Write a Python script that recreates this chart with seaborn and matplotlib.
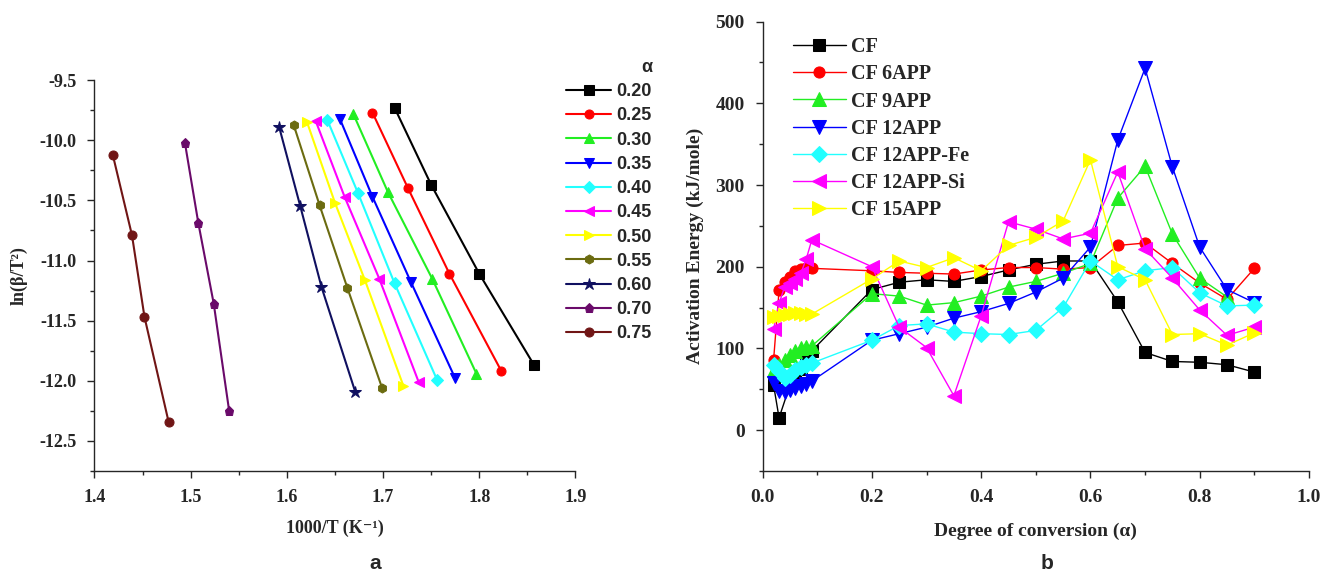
import matplotlib
matplotlib.use("Agg")
import matplotlib.pyplot as plt
from matplotlib.ticker import MultipleLocator, FormatStrFormatter
import seaborn as sns

sns.set_style("ticks")
plt.rcParams['font.family'] = ['Liberation Serif', 'DejaVu Serif']
plt.rcParams['font.weight'] = 'bold'
plt.rcParams['axes.unicode_minus'] = False

# ---- panel a: ln(beta/T^2) vs 1000/T for each conversion ----
alpha_labels = ["0.20", "0.25", "0.30", "0.35", "0.40", "0.45",
                "0.50", "0.55", "0.60", "0.70", "0.75"]
inv_t_020 = [1.712, 1.750, 1.800, 1.857]
ln_bt_020 = [-9.73, -10.37, -11.11, -11.87]
inv_t_025 = [1.689, 1.726, 1.769, 1.823]
ln_bt_025 = [-9.77, -10.40, -11.11, -11.92]
inv_t_030 = [1.669, 1.705, 1.751, 1.797]
ln_bt_030 = [-9.78, -10.43, -11.15, -11.94]
inv_t_035 = [1.655, 1.689, 1.729, 1.775]
ln_bt_035 = [-9.82, -10.47, -11.18, -11.98]
inv_t_040 = [1.642, 1.674, 1.712, 1.756]
ln_bt_040 = [-9.83, -10.44, -11.19, -11.99]
inv_t_045 = [1.630, 1.660, 1.696, 1.737]
ln_bt_045 = [-9.84, -10.47, -11.15, -12.01]
inv_t_050 = [1.621, 1.650, 1.681, 1.721]
ln_bt_050 = [-9.85, -10.52, -11.16, -12.04]
inv_t_055 = [1.607, 1.634, 1.663, 1.699]
ln_bt_055 = [-9.87, -10.54, -11.23, -12.06]
inv_t_060 = [1.592, 1.614, 1.636, 1.671]
ln_bt_060 = [-9.89, -10.55, -11.22, -12.09]
inv_t_070 = [1.494, 1.508, 1.524, 1.540]
ln_bt_070 = [-10.02, -10.69, -11.36, -12.25]
inv_t_075 = [1.419, 1.439, 1.452, 1.477]
ln_bt_075 = [-10.12, -10.79, -11.47, -12.34]

# ---- panel b: activation energy vs degree of conversion ----
series_names = ["CF", "CF 6APP", "CF 9APP", "CF 12APP",
                "CF 12APP-Fe", "CF 12APP-Si", "CF 15APP"]
x_cf = [0.02, 0.03, 0.05, 0.06, 0.07, 0.08, 0.09,
        0.2, 0.25, 0.3, 0.35, 0.4, 0.45, 0.5, 0.55, 0.6, 0.65, 0.7, 0.75, 0.8, 0.85, 0.9]
ea_cf = [55, 15, 55, 62, 75, 88, 97,
         172, 181, 184, 182, 188, 196, 203, 207, 207, 157, 95, 84, 83, 80, 71]
x_full = [0.02, 0.03, 0.04, 0.05, 0.06, 0.07, 0.08, 0.09,
          0.2, 0.25, 0.3, 0.35, 0.4, 0.45, 0.5, 0.55, 0.6, 0.65, 0.7, 0.75, 0.8, 0.85, 0.9]
x_9app = [0.02, 0.03, 0.04, 0.05, 0.06, 0.07, 0.08, 0.09,
          0.2, 0.25, 0.3, 0.35, 0.4, 0.45, 0.5, 0.55, 0.6, 0.65, 0.7, 0.75, 0.8, 0.85]
ea_6app = [86, 171, 181, 187, 195, 197, 198, 198,
           195, 193, 192, 191, 196, 199, 199, 197, 199, 226, 229, 204, 180, 160, 198]
ea_9app = [74, 80, 86, 92, 97, 100, 102, 103,
           167, 164, 153, 156, 164, 175, 182, 192, 204, 284, 323, 240, 186, 163]
ea_12app = [58, 48, 47, 49, 51, 54, 57, 60,
            110, 118, 126, 137, 145, 155, 169, 186, 224, 355, 443, 322, 224, 172, 156]
ea_12app_fe = [80, 72, 64, 68, 73, 77, 80, 82,
               110, 128, 130, 120, 118, 117, 122, 150, 207, 184, 195, 199, 168, 152, 153]
ea_12app_si = [124, 155, 175, 180, 185, 192, 210, 233,
               200, 126, 101, 42, 140, 255, 246, 234, 241, 316, 222, 186, 147, 116, 126]
ea_15app = [138, 140, 141, 142, 143, 143, 142, 142,
            185, 207, 199, 211, 195, 226, 236, 256, 331, 200, 184, 117, 118, 104, 119]

left_series = [(inv_t_020, ln_bt_020), (inv_t_025, ln_bt_025), (inv_t_030, ln_bt_030),
               (inv_t_035, ln_bt_035), (inv_t_040, ln_bt_040), (inv_t_045, ln_bt_045),
               (inv_t_050, ln_bt_050), (inv_t_055, ln_bt_055), (inv_t_060, ln_bt_060),
               (inv_t_070, ln_bt_070), (inv_t_075, ln_bt_075)]
left_colors = ["#000000", "#FF0000", "#22EE22", "#0000FF", "#22FFFF", "#FF00FF",
               "#FFFF00", "#6B6B10", "#101060", "#6A0A6A", "#701515"]
left_markers = ["s", "o", "^", "v", "D", "<", ">", "h", "*", "p", "o"]

right_series = [(x_cf, ea_cf), (x_full, ea_6app), (x_9app, ea_9app), (x_full, ea_12app),
                (x_full, ea_12app_fe), (x_full, ea_12app_si), (x_full, ea_15app)]
right_colors = ["#000000", "#FF0000", "#22EE22", "#0000FF", "#22FFFF", "#FF00FF", "#FFFF00"]
right_markers = ["s", "o", "^", "v", "D", "<", ">"]

fig = plt.figure(figsize=(13.25, 5.85), dpi=100)
ax1 = fig.add_axes([0.0713, 0.195, 0.363, 0.668])
ax2 = fig.add_axes([0.5756, 0.195, 0.4123, 0.768])

for (xs, ys), lab, col, mk in zip(left_series, alpha_labels, left_colors, left_markers):
    ms = 9 if mk == "*" else 6.5
    sns.lineplot(x=xs, y=ys, ax=ax1, color=col, marker=mk, markersize=ms,
                 markeredgecolor=col, linewidth=1.5, label=lab)

ax1.set_xlim(1.4, 1.9)
ax1.set_ylim(-12.75, -9.5)
ax1.xaxis.set_major_locator(MultipleLocator(0.1))
ax1.xaxis.set_minor_locator(MultipleLocator(0.05))
ax1.yaxis.set_major_locator(MultipleLocator(0.5))
ax1.yaxis.set_minor_locator(MultipleLocator(0.25))
ax1.xaxis.set_major_formatter(FormatStrFormatter('%.1f'))
ax1.yaxis.set_major_formatter(FormatStrFormatter('%.1f'))
ax1.set_xlabel("1000/T (K⁻¹)", fontsize=13, fontweight='bold', labelpad=10)
ax1.set_ylabel("ln(β/T²)", fontsize=13, fontweight='bold', labelpad=8)
ax1.tick_params(axis='both', which='major', direction='out', length=5, width=1,
                labelsize=13, pad=8)
ax1.tick_params(axis='both', which='minor', direction='out', length=3, width=1)
leg1 = ax1.legend(loc='upper left', bbox_to_anchor=(0.415, 0.927),
                  bbox_transform=fig.transFigure, frameon=False, title="α",
                  prop={'family': 'Liberation Sans', 'weight': 'bold', 'size': 13},
                  handlelength=2.5, handletextpad=0.3, labelspacing=0.4)
leg1.get_title().set_fontfamily('Liberation Sans')
leg1.get_title().set_fontweight('bold')
leg1.get_title().set_fontsize(13)
leg1._legend_box.align = "right"

for (xs, ys), lab, col, mk in zip(right_series, series_names, right_colors, right_markers):
    ms = 8 if mk in ("s", "o", "D") else 9.5
    sns.lineplot(x=xs, y=ys, ax=ax2, color=col, marker=mk, markersize=ms,
                 markeredgecolor=col, linewidth=1.0, label=lab)

ax2.set_xlim(0, 1.0)
ax2.set_ylim(-50, 500)
ax2.xaxis.set_major_locator(MultipleLocator(0.2))
ax2.xaxis.set_minor_locator(MultipleLocator(0.1))
ax2.yaxis.set_major_locator(MultipleLocator(100))
ax2.yaxis.set_minor_locator(MultipleLocator(50))
ax2.set_yticks([0, 100, 200, 300, 400, 500])
ax2.xaxis.set_major_formatter(FormatStrFormatter('%.1f'))
ax2.set_xlabel("Degree of conversion (α)", fontsize=14, fontweight='bold', labelpad=12)
ax2.set_ylabel("Activation Energy (kJ/mole)", fontsize=14, fontweight='bold', labelpad=8)
ax2.tick_params(axis='both', which='major', direction='out', length=5, width=1,
                labelsize=14, pad=8)
ax2.tick_params(axis='both', which='minor', direction='out', length=3, width=1)
ax2.legend(loc='upper left', bbox_to_anchor=(0.585, 0.967),
           bbox_transform=fig.transFigure, frameon=False,
           prop={'family': 'Liberation Serif', 'weight': 'bold', 'size': 14.5},
           handlelength=2.6, handletextpad=0.25, labelspacing=0.35)

for ax in (ax1, ax2):
    sns.despine(ax=ax)
    for sp in ax.spines.values():
        sp.set_linewidth(1.0)

fig.text(0.283, 0.02, "a", fontsize=15, fontweight='bold', family='Liberation Sans',
         ha='center', va='bottom')
fig.text(0.79, 0.02, "b", fontsize=15, fontweight='bold', family='Liberation Sans',
         ha='center', va='bottom')

fig.savefig("out.png", dpi=100)
